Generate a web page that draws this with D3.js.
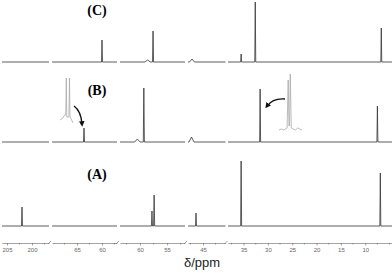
<!DOCTYPE html>
<html>
<head>
<meta charset="utf-8">
<script src="https://cdn.jsdelivr.net/npm/d3@7"></script>
<style>
  body { margin: 0; background: #fff; }
  svg { display: block; }
  .axis path, .axis line { stroke: #666; stroke-width: 0.6; }
  .axis text { font-family: "Liberation Sans", Arial, sans-serif; font-size: 6px; fill: #666; }
</style>
</head>
<body>
<script>
// broken ppm axis: each piece is [left ppm, right ppm]
var segDomains = [[206, 196.6], [70, 57], [63.7, 51.7], [48, 40.5], [38.2, 4.5]];
var segTicks = [[205, 200], [65, 60], [60, 55], [45], [35, 30, 25, 20, 15, 10]];

// traces: peaks as [axis piece, ppm, intensity, half width]
var traceNames = ["(A)", "(B)", "(C)"];
var traceOffsets = [0, 84, 164];
var peaksA = [[0, 202.0, 19], [2, 57.8, 15], [2, 57.4, 31], [3, 46.4, 13], [4, 35.5, 65], [4, 6.9, 53]];
var peaksB = [[1, 63.6, 14], [2, 60.5, 3, 0.5], [2, 59.3, 54], [3, 47.3, 5, 0.5], [4, 31.6, 53], [4, 7.5, 36]];
var peaksC = [[1, 60.0, 22], [2, 58.6, 2, 0.5], [2, 57.6, 31], [3, 47.2, 3, 0.5], [4, 35.5, 8], [4, 32.6, 60], [4, 6.7, 34]];

// zoomed insets in (B): local position, intensity
var inset1 = [[0, 0], [3, 2], [5, 5], [6.2, 5], [6.8, 42], [7.3, 3], [9.6, 3], [10.2, 42], [10.8, 3], [12, 1], [14, -3]];
var inset2 = [[0, 0], [2, 1], [4, 0], [6, 1], [7.4, 2], [8.4, 50], [9.1, 4], [9.6, 4], [10.3, 56], [11.2, 2], [13, 1], [15, 0], [17, 2], [19, 1], [21, 0]];

var W = 392, H = 273;
var segRanges = [[2, 49], [52, 117], [120, 185], [188, 225.5], [228, 392]];

var svg = d3.select("body").append("svg").attr("width", W).attr("height", H);

var y = d3.scaleLinear().domain([0, 230]).range([226, -4]);

var scales = segDomains.map(function (d, i) {
  return d3.scaleLinear().domain(d).range(segRanges[i]);
});

var allPeaks = [peaksA, peaksB, peaksC];

allPeaks.forEach(function (peaks, t) {
  scales.forEach(function (sx, s) {
    var dom = sx.domain();
    var pts = [[dom[0], 0], [dom[1], 0]];
    peaks.forEach(function (p) {
      if (p[0] === s) {
        var w = p[3] || 0.1;
        pts.push([p[1] + w, 0], [p[1], p[2]], [p[1] - w, 0]);
      }
    });
    pts.sort(function (a, b) { return b[0] - a[0]; });
    svg.append("path")
      .datum(pts)
      .attr("fill", "none")
      .attr("stroke", "#333")
      .attr("stroke-width", 0.8)
      .attr("d", d3.line()
        .x(function (d) { return sx(d[0]); })
        .y(function (d) { return y(traceOffsets[t] + d[1]); }));
  });
});

// labels
svg.selectAll("text.trace")
  .data(traceNames)
  .enter().append("text")
  .attr("class", "trace")
  .attr("x", 97)
  .attr("y", function (d, i) { return y(traceOffsets[i]) - 47; })
  .attr("text-anchor", "middle")
  .attr("font-family", "Liberation Serif, Times New Roman, serif")
  .attr("font-weight", "bold")
  .attr("font-size", 14)
  .text(function (d) { return d; });

// insets
function drawInset(data, x0, x1, base) {
  var ix = d3.scaleLinear().domain([0, d3.max(data, function (d) { return d[0]; })]).range([x0, x1]);
  svg.append("path")
    .datum(data)
    .attr("fill", "none")
    .attr("stroke", "#aaa")
    .attr("stroke-width", 0.8)
    .attr("d", d3.line()
      .x(function (d) { return ix(d[0]); })
      .y(function (d) { return base - d[1]; }));
}
drawInset(inset1, 60, 73, 120);
drawInset(inset2, 279, 302, 130);

// arrows
svg.append("defs").append("marker")
  .attr("id", "head")
  .attr("viewBox", "0 0 10 10")
  .attr("refX", 5).attr("refY", 5)
  .attr("markerWidth", 4).attr("markerHeight", 4)
  .attr("orient", "auto")
  .append("path").attr("d", "M0,0L10,5L0,10z").attr("fill", "#111");

svg.append("path")
  .attr("d", "M74,106 Q81,111 82,124")
  .attr("fill", "none").attr("stroke", "#111").attr("stroke-width", 1.4)
  .attr("marker-end", "url(#head)");
svg.append("path")
  .attr("d", "M285,99 Q273,98 267,106")
  .attr("fill", "none").attr("stroke", "#111").attr("stroke-width", 1.4)
  .attr("marker-end", "url(#head)");

// axis pieces
scales.forEach(function (sx, i) {
  var dom = sx.domain();
  var minor = d3.range(Math.ceil(dom[1] / 2.5) * 2.5, dom[0], 2.5)
    .filter(function (v) { return segTicks[i].indexOf(v) < 0; });
  var g = svg.append("g").attr("class", "axis").attr("transform", "translate(0,243)");
  g.call(d3.axisBottom(sx).tickValues(segTicks[i]).tickSize(2.5).tickSizeOuter(0).tickPadding(2));
  g.selectAll(".minor")
    .data(minor)
    .enter().append("line")
    .attr("class", "minor")
    .attr("x1", sx).attr("x2", sx)
    .attr("y1", 0).attr("y2", 1.5);
  // break marks
  g.selectAll(".brk")
    .data(i < scales.length - 1 ? [dom[1]] : [])
    .enter().append("line")
    .attr("class", "brk")
    .attr("x1", function (d) { return sx(d) - 1; }).attr("x2", function (d) { return sx(d) + 2; })
    .attr("y1", 1).attr("y2", -2);
});

svg.append("text")
  .attr("x", 202)
  .attr("y", 267)
  .attr("text-anchor", "middle")
  .attr("font-family", "Liberation Sans, Arial, sans-serif")
  .attr("font-size", 13)
  .attr("fill", "#222")
  .text("δ/ppm");
</script>
</body>
</html>
